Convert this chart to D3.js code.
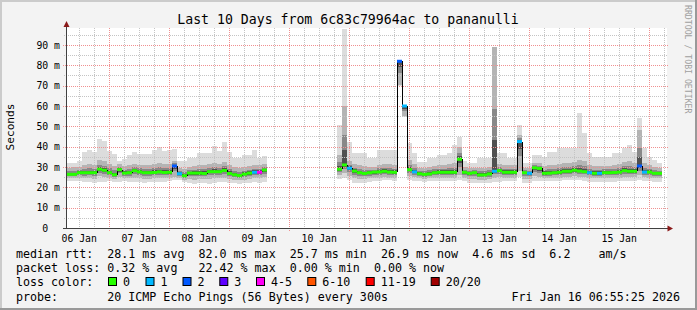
<!DOCTYPE html>
<html><head><meta charset="utf-8">
<script src="https://cdn.jsdelivr.net/npm/d3@7"></script>
<style>
html,body{margin:0;padding:0;background:#f3f3f3;}
svg{display:block;}
text{font-family:"DejaVu Sans Mono",monospace;}
</style></head><body>
<svg id="chart" width="697" height="310"></svg>
<script>
// ---------- DATA (2-hour slots, ms) ----------
const median = [
 26.4,26.4,27.2,27.2,27.2,27.2,28.9,28.4,27.2,26.2,
 28.7,27.0,27.2,28.2,27.6,27.2,27.2,27.3,27.6,27.3,
 27.4,30.5,26.7,25.7,27.0,27.0,27.0,26.8,27.7,27.7,
 27.7,28.3,26.8,26.2,25.8,26.5,27.0,27.4,27.4,28.5,
 null,null,null,null,null,null,null,null,null,null,
 null,null,null,null,28.9,31.0,29.4,28.0,27.2,26.8,
 27.2,27.5,27.6,27.9,27.5,27.4,82.0,60.0,28.7,27.6,
 26.7,26.4,26.6,27.2,27.4,27.4,27.4,27.4,33.8,27.4,
 26.9,27.2,26.1,26.1,26.6,27.9,28.2,27.4,27.4,27.4,
 42.5,27.2,26.9,29.6,29.3,26.9,27.0,27.2,27.4,27.9,
 27.9,28.4,28.0,27.7,27.2,26.9,26.9,27.2,27.2,27.3,
 27.5,28.2,27.9,27.9,30.5,27.5,27.5,26.9,26.9,null];
const lossClass = [
 0,0,0,0,0,0,0,0,0,0,
 0,0,0,0,0,0,0,0,0,0,
 0,2,1,0,0,0,0,0,0,0,
 0,0,0,0,0,0,0,1,4,0,
 null,null,null,null,null,null,null,null,null,null,
 null,null,null,null,0,0,1,0,0,0,
 0,0,0,0,0,0,2,1,0,1,
 0,0,0,0,0,0,0,0,0,0,
 0,0,0,0,0,1,0,0,0,0,
 1,0,1,0,0,0,0,0,0,0,
 0,0,0,0,1,0,1,0,0,0,
 0,0,0,0,2,1,0,0,0,null];
const pingMin = [
 23.0,23.3,23.0,22.5,22.8,22.3,22.8,22.5,23.0,22.6,
 22.5,23.0,22.6,22.6,22.8,22.2,22.4,22.8,22.6,22.8,
 23.0,23.4,23.5,22.8,22.0,21.8,22.0,22.2,21.8,22.3,
 22.4,22.6,22.2,22.0,21.6,22.0,22.3,22.4,22.2,22.4,
 null,null,null,null,null,null,null,null,null,null,
 null,null,null,null,24.0,24.5,23.5,22.2,22.0,22.2,
 22.8,23.2,23.2,23.4,23.4,23.2,70.0,54.7,23.4,23.2,
 23.0,22.8,23.0,23.2,23.2,23.0,23.0,23.2,23.5,23.0,
 22.2,22.0,22.0,22.0,22.2,22.4,22.6,23.0,23.0,23.0,
 25.0,22.0,22.0,23.0,23.0,23.0,23.0,23.2,23.2,23.4,
 23.4,23.6,23.4,23.2,22.8,22.6,22.6,22.8,22.8,22.8,
 23.0,23.2,23.2,23.2,23.4,23.2,23.0,22.8,22.8,null];
const pingP25 = [
 24.5,24.6,24.8,24.4,24.5,24.3,25.5,25.0,24.6,24.0,
 25.0,24.6,24.4,24.8,24.6,24.2,24.3,24.5,24.6,24.5,
 24.8,25.2,24.5,23.8,24.0,23.8,24.0,24.0,24.2,24.4,
 24.5,24.8,24.0,23.6,23.4,23.8,24.0,24.4,24.4,25.0,
 null,null,null,null,null,null,null,null,null,null,
 null,null,null,null,26.0,27.0,25.5,24.5,24.0,24.0,
 24.4,24.6,24.8,25.0,24.8,24.8,70.5,55.0,25.5,25.0,
 24.4,24.2,24.4,24.6,24.8,24.8,24.6,24.8,26.0,24.6,
 24.2,24.2,23.8,23.8,24.0,24.8,25.0,24.8,24.8,24.8,
 28.0,24.2,24.0,25.5,25.2,24.5,24.5,24.6,24.8,25.0,
 25.0,25.4,25.2,25.0,24.6,24.4,24.4,24.6,24.6,24.6,
 24.8,25.2,25.0,25.0,26.0,25.0,24.8,24.6,24.6,null];
const pingP75 = [
 29.5,29.8,30.2,31.0,31.5,31.0,33.5,33.0,31.5,30.5,
 31.5,30.5,31.0,31.5,31.0,30.8,31.0,31.5,32.0,31.5,
 31.5,33.0,29.5,29.0,30.0,30.5,31.0,31.0,31.5,32.0,
 31.5,32.5,31.0,30.0,29.5,30.0,30.5,31.0,31.0,31.5,
 null,null,null,null,null,null,null,null,null,null,
 null,null,null,null,36.0,60.0,33.0,31.5,31.0,30.5,
 30.0,30.0,31.0,31.5,31.5,31.0,82.0,60.0,33.5,31.5,
 29.5,29.5,30.0,30.5,31.0,31.0,31.5,32.0,40.0,30.0,
 29.5,29.5,29.5,29.5,30.0,89.0,31.5,31.0,31.0,31.0,
 45.6,29.5,29.5,32.0,32.0,30.5,31.0,31.0,31.5,32.0,
 32.0,32.5,33.5,33.0,31.0,30.5,30.5,30.5,30.5,31.0,
 31.5,32.5,33.0,32.0,48.0,32.0,31.0,30.0,29.5,null];
const pingMax = [
 31.8,31.8,33.0,37.5,38.4,37.5,44.0,43.0,38.0,36.5,
 33.0,34.0,35.8,37.5,36.5,36.3,36.3,38.6,40.0,37.8,
 38.4,39.0,33.0,33.0,34.3,34.3,36.7,36.7,36.7,40.5,
 38.0,42.5,37.5,34.3,34.3,36.0,36.0,38.4,34.5,35.5,
 null,null,null,null,null,null,null,null,null,null,
 null,null,null,null,50.6,98.0,42.5,36.7,36.7,36.7,
 34.3,34.3,38.4,38.4,38.4,38.4,82.0,60.0,41.7,36.7,
 32.6,32.6,34.3,34.3,35.9,35.9,36.7,40.8,44.9,33.0,
 32.0,32.0,34.3,34.3,34.3,89.0,36.7,36.7,34.3,34.3,
 50.6,32.0,32.0,35.9,35.9,35.0,37.5,37.5,39.2,39.2,
 39.2,39.2,56.4,46.5,36.7,35.0,35.0,35.0,35.0,36.7,
 36.7,39.2,40.8,37.5,54.0,39.2,35.0,33.5,32.0,null];

const yTickValues = [0,10,20,30,40,50,60,70,80,90];
const yTickLabels = ["0  ","10 m","20 m","30 m","40 m","50 m","60 m","70 m","80 m","90 m"];
const dayLabels = ["06 Jan","07 Jan","08 Jan","09 Jan","10 Jan","11 Jan","12 Jan","13 Jan","14 Jan","15 Jan"];
const lossLabels = ["0","1","2","3","4-5","6-10","11-19","20/20"];
const lossColors = ["#26ff00","#00b8ff","#0059ff","#5e00ff","#ff00f6","#ff5500","#ff0000","#a00000"];
const statLines = [
 "median rtt:  28.1 ms avg  82.0 ms max  25.7 ms min  26.9 ms now  4.6 ms sd  6.2    am/s",
 "packet loss: 0.32 % avg   22.42 % max  0.00 % min  0.00 % now",
 "loss color:",
 "probe:       20 ICMP Echo Pings (56 Bytes) every 300s"];
const titleText = "Last 10 Days from 6c83c79964ac to pananulli";
const stampText = "Fri Jan 16 06:55:25 2026";
const creditText = "RRDTOOL / TOBI OETIKER";

// ---------- SETUP ----------
const W = 697, H = 310;
const svg = d3.select("#chart");
const nb = s => s.replace(/ /g, "\u00a0");
const startT = new Date(Date.UTC(2026,0,6,6,55));
const endT = new Date(Date.UTC(2026,0,16,6,55));
const firstSlot = Date.UTC(2026,0,6,7,19);
const stepMs = 2*3600*1000;
const tAt = i => new Date(firstSlot + i*stepMs);

const x = d3.scaleUtc().domain([startT, endT]).range([66, 666]);
const y = d3.scaleLinear().domain([0, 98.36]).range([228, 28]);
const plotTop = 28, plotBottom = 228, plotLeft = 66, plotRight = 667;

// background & frame
svg.append("rect").attr("width", W).attr("height", H).attr("fill", "#f3f3f3");
svg.append("rect").attr("x",0).attr("y",0).attr("width",W).attr("height",2).attr("fill","#cbcbcb");
svg.append("rect").attr("x",0).attr("y",0).attr("width",2).attr("height",H).attr("fill","#cbcbcb");
svg.append("rect").attr("x",0).attr("y",H-2).attr("width",W).attr("height",2).attr("fill","#999999");
svg.append("rect").attr("x",W-2).attr("y",0).attr("width",2).attr("height",H).attr("fill","#999999");

// plot canvas
svg.append("rect").attr("x", plotLeft).attr("y", plotTop)
  .attr("width", plotRight - plotLeft).attr("height", plotBottom - plotTop).attr("fill", "#ffffff");

// ---------- SMOKE ----------
const idx = median.map((v, i) => v == null ? null : i).filter(i => i != null);
const smoke = svg.append("g").attr("shape-rendering", "crispEdges");
function band(lowF, highF, color) {
  smoke.append("g").selectAll("rect").data(idx).join("rect")
    .attr("x", i => x(tAt(i)))
    .attr("width", i => x(tAt(i + 1)) - x(tAt(i)))
    .attr("y", i => Math.max(plotTop, y(highF(i))))
    .attr("height", i => Math.max(0, y(lowF(i)) - Math.max(plotTop, y(highF(i)))))
    .attr("fill", color);
}
band(i => pingMin[i], i => pingMax[i], "#dcdcdc");
band(i => pingP25[i], i => pingP75[i], "#b4b4b4");
band(i => (pingP25[i] + median[i]) / 2, i => (pingP75[i] + median[i]) / 2, "#888888");
band(i => median[i] - (median[i] - pingP25[i]) * 0.25, i => median[i] + (pingP75[i] - median[i]) * 0.25, "#505050");

// ---------- GRID (drawn over smoke) ----------
const grid = svg.append("g").attr("shape-rendering", "crispEdges");
const minorX = d3.utcHour.every(6).range(startT, endT).filter(d => d.getUTCHours() !== 0);
const majorX = d3.utcDay.range(startT, endT);
grid.selectAll("line.mx").data(minorX).join("line")
  .attr("x1", d => Math.round(x(d)) + 0.5).attr("x2", d => Math.round(x(d)) + 0.5)
  .attr("y1", plotTop).attr("y2", plotBottom + 2)
  .attr("stroke", "#c4c4c4").attr("stroke-dasharray", "1,1");
const minorY = [5,15,25,35,45,55,65,75,85,95];
grid.selectAll("line.my").data(minorY).join("line")
  .attr("y1", d => Math.round(y(d)) + 0.5).attr("y2", d => Math.round(y(d)) + 0.5)
  .attr("x1", plotLeft - 2).attr("x2", plotRight + 1)
  .attr("stroke", "#c4c4c4").attr("stroke-dasharray", "1,1");
grid.selectAll("line.Mx").data(majorX).join("line")
  .attr("x1", d => Math.round(x(d)) + 0.5).attr("x2", d => Math.round(x(d)) + 0.5)
  .attr("y1", plotTop).attr("y2", plotBottom + 3)
  .attr("stroke", "#f09090").attr("stroke-dasharray", "1,1");
grid.selectAll("line.My").data(yTickValues.filter(v => v > 0)).join("line")
  .attr("y1", d => Math.round(y(d)) + 0.5).attr("y2", d => Math.round(y(d)) + 0.5)
  .attr("x1", plotLeft - 3).attr("x2", plotRight + 1)
  .attr("stroke", "#f09090").attr("stroke-dasharray", "1,1");

// ---------- MEDIAN ----------
const conn = idx.filter(i => median[i + 1] != null);
svg.append("g").attr("shape-rendering", "crispEdges").selectAll("line").data(conn).join("line")
  .attr("x1", i => Math.round(x(tAt(i + 1))) + 0.5).attr("x2", i => Math.round(x(tAt(i + 1))) + 0.5)
  .attr("y1", i => y(median[i])).attr("y2", i => y(median[i + 1]))
  .attr("stroke", "#000").attr("stroke-width", 1);
svg.append("g").selectAll("rect").data(idx).join("rect")
  .attr("x", i => x(tAt(i)))
  .attr("width", i => x(tAt(i + 1)) - x(tAt(i)))
  .attr("y", i => y(median[i]) - 1.5).attr("height", 3)
  .attr("fill", i => lossColors[lossClass[i]]);

// ---------- AXES ----------
const yAxis = d3.axisLeft(y).tickValues(yTickValues)
  .tickFormat((d, i) => nb(yTickLabels[i])).tickSize(0).tickPadding(7);
const gy = svg.append("g").attr("transform", "translate(67,0)").call(yAxis);
gy.select(".domain").remove();
gy.selectAll("text").attr("font-family", "DejaVu Sans Mono").attr("font-size", "9.8px").attr("fill", "#000");

const noon = dayLabels.map((_, i) => new Date(Date.UTC(2026, 0, 6 + i, 12)));
const xAxis = d3.axisBottom(x).tickValues(noon)
  .tickFormat((d, i) => dayLabels[i]).tickSize(0).tickPadding(7);
const gx = svg.append("g").attr("transform", "translate(0,228)").call(xAxis);
gx.select(".domain").remove();
gx.selectAll("text").attr("font-family", "DejaVu Sans Mono").attr("font-size", "9.8px").attr("fill", "#000");

// axis lines + arrows
svg.append("line").attr("x1", 66.5).attr("x2", 66.5).attr("y1", 229).attr("y2", 24)
  .attr("stroke", "#404040").attr("stroke-width", 1);
svg.append("line").attr("x1", 63).attr("x2", 669).attr("y1", 228.5).attr("y2", 228.5)
  .attr("stroke", "#404040").attr("stroke-width", 1);
svg.append("path").attr("d", "M66.5,21 L63.5,27 L69.5,27 Z").attr("fill", "#8b1a1a");
svg.append("path").attr("d", "M673,228.5 L667.5,225.5 L667.5,231.5 Z").attr("fill", "#8b1a1a");

// ---------- TEXT ----------
svg.append("text").attr("x", 348).attr("y", 24).attr("text-anchor", "middle")
  .attr("font-size", "13.2px").attr("fill", "#000").text(titleText);
svg.append("text").attr("transform", "translate(14,127) rotate(-90)").attr("text-anchor", "middle")
  .attr("font-size", "11.2px").attr("fill", "#000").text("Seconds");
svg.append("text").attr("transform", "translate(684.5,5) rotate(90)").attr("text-anchor", "start")
  .attr("font-size", "8.2px").attr("fill", "#a0a0a0").text(creditText);

const legendY = [258.3, 272.3, 286.4, 300.5];
svg.append("g").selectAll("text").data(statLines).join("text")
  .attr("x", 16).attr("y", (d, i) => legendY[i])
  .attr("font-size", "11.66px").attr("fill", "#000").text(d => nb(d));
svg.append("text").attr("x", 680).attr("y", legendY[3]).attr("text-anchor", "end")
  .attr("font-size", "11.66px").attr("fill", "#000").text(stampText);

const boxX = [108, 145.5, 182.5, 219.3, 256, 307.3, 365.7, 430.7];
const lg = svg.append("g");
lg.selectAll("rect").data(lossColors).join("rect")
  .attr("x", (d, i) => boxX[i] + 0.5).attr("y", 277.5).attr("width", 8).attr("height", 8)
  .attr("fill", d => d).attr("stroke", "#000").attr("stroke-width", 1);
lg.selectAll("text").data(lossLabels).join("text")
  .attr("x", (d, i) => boxX[i] + 15).attr("y", legendY[2])
  .attr("font-size", "11.66px").attr("fill", "#000").text(d => d);
</script>
</body></html>
